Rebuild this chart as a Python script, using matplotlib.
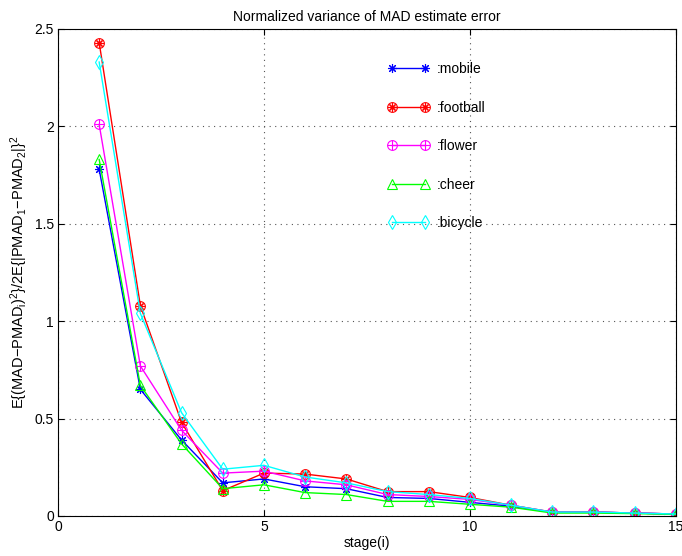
import matplotlib
matplotlib.use('Agg')
import matplotlib.pyplot as plt
import numpy as np

plt.rcParams['font.family'] = ['Liberation Sans', 'DejaVu Sans']
plt.rcParams['mathtext.fontset'] = 'custom'
plt.rcParams['mathtext.rm'] = 'Liberation Sans'
plt.rcParams['mathtext.it'] = 'Liberation Sans'

# 数据
stage = [1, 2, 3, 4, 5, 6, 7, 8, 9, 10, 11, 12, 13, 14, 15]
mobile = [1.78, 0.65, 0.39, 0.17, 0.19, 0.15, 0.14, 0.095, 0.09, 0.07, 0.05, 0.02, 0.02, 0.015, 0.01]
football = [2.43, 1.08, 0.48, 0.13, 0.22, 0.215, 0.19, 0.125, 0.125, 0.095, 0.055, 0.02, 0.02, 0.015, 0.01]
flower = [2.01, 0.77, 0.44, 0.22, 0.23, 0.18, 0.16, 0.11, 0.10, 0.085, 0.055, 0.02, 0.02, 0.015, 0.01]
cheer = [1.83, 0.67, 0.37, 0.14, 0.16, 0.12, 0.11, 0.075, 0.075, 0.06, 0.045, 0.015, 0.015, 0.012, 0.008]
bicycle = [2.33, 1.04, 0.53, 0.24, 0.26, 0.20, 0.17, 0.125, 0.11, 0.09, 0.055, 0.02, 0.02, 0.015, 0.01]
labels = [':mobile', ':football', ':flower', ':cheer', ':bicycle']

fig = plt.figure(figsize=(6.82, 5.56), dpi=100)
ax = fig.add_axes([0.085, 0.072, 0.906, 0.876])

lw = 1.0
ms = 6.5
mew = 0.8
star = (8, 2, 0)  # matlab风格星号
h = []
l1, = ax.plot(stage, mobile, color='#0000ff', marker=star, ms=ms, mew=mew, lw=lw)
h.append(l1)
l2, = ax.plot(stage, football, color='#ff0000', marker='o', ms=ms + 0.5, mfc='none', mew=mew, lw=lw)
l2b, = ax.plot(stage, football, color='#ff0000', marker=star, ms=ms - 0.5, mew=mew, ls='none')
h.append((l2, l2b))
l3, = ax.plot(stage, flower, color='#ff00ff', marker='o', ms=ms + 0.5, mfc='none', mew=mew, lw=lw)
l3b, = ax.plot(stage, flower, color='#ff00ff', marker='+', ms=ms + 0.5, mew=mew, ls='none')
h.append((l3, l3b))
l4, = ax.plot(stage, cheer, color='#00ff00', marker='^', ms=ms + 0.5, mfc='none', mew=mew, lw=lw)
h.append(l4)
l5, = ax.plot(stage, bicycle, color='#00ffff', marker='d', ms=ms + 0.5, mfc='none', mew=mew, lw=lw)
h.append(l5)

ax.set_xlim(0, 15)
ax.set_ylim(0, 2.5)
ax.set_xticks([0, 5, 10, 15])
ax.set_yticks([0, 0.5, 1, 1.5, 2, 2.5])
ax.set_yticklabels(['0', '0.5', '1', '1.5', '2', '2.5'])
ax.tick_params(direction='in', top=True, right=True, labelsize=10, length=4, pad=3)
ax.grid(True, linestyle=(0, (1, 4)), color='#555555', lw=0.8)

ax.set_title('Normalized variance of MAD estimate error', fontsize=10, pad=6)
ax.set_xlabel('stage(i)', fontsize=10, labelpad=1)
ax.set_ylabel(r'E{(MAD$-$PMAD$_i$)$^2$}/2E{|PMAD$_1$$-$PMAD$_2$|}$^2$', fontsize=10.5, labelpad=3)

ax.legend(h, labels, loc='upper left', bbox_to_anchor=(0.514, 0.957), frameon=False,
          numpoints=2, handlelength=2.95, labelspacing=1.76, handletextpad=0.55, fontsize=10)

plt.savefig('out.png', dpi=100)
